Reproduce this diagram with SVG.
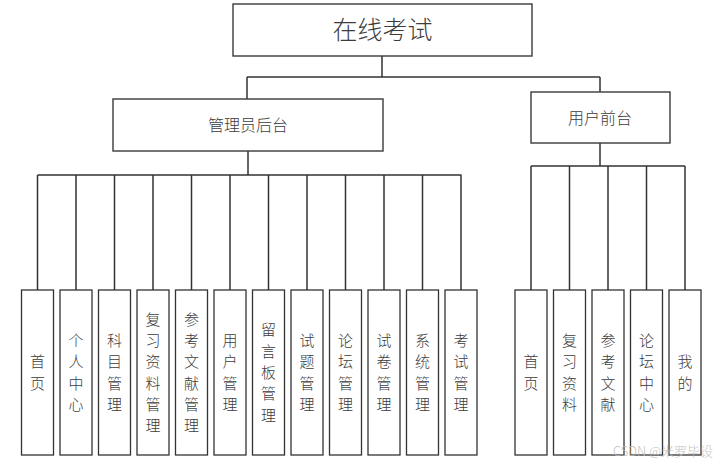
<svg xmlns="http://www.w3.org/2000/svg" width="725" height="464" viewBox="0 0 725 464">
<style>
.box{fill:#fff;stroke:#3a3a3a;stroke-width:1.4}
.lf{fill:#fff;stroke:#333;stroke-width:1.3}
.ln{fill:none;stroke:#333;stroke-width:1.5}
text{font-family:"Noto Sans CJK SC","Liberation Sans",sans-serif;font-weight:300;fill:#3c3c3c;text-anchor:middle}
.v{font-size:15px}
</style>
<rect width="725" height="464" fill="#fff"/>
<g id="connectors">
<path class="ln" d="M382,56V77M247,77H600M247,77V99M600,77V92"/>
<path class="ln" d="M248,151V175M37.5,175H461.5M37.5,175V290M76,175V290M114.5,175V290M153,175V290M191.5,175V290M230,175V290M268.5,175V290M307,175V290M345.5,175V290M384,175V290M422.5,175V290M461,175V290"/>
<path class="ln" d="M600,143V166M531,166H685M531,166V290M569.5,166V290M608,166V290M646.5,166V290M685,166V290"/>
</g>
<g id="root"><rect class="box" x="233" y="4" width="299" height="52"/><text x="382.5" y="39" font-size="25">在线考试</text></g>
<g id="admin"><rect class="box" x="113" y="99" width="270" height="52"/><text x="248" y="131" font-size="16">管理员后台</text></g>
<g id="user"><rect class="box" x="531" y="92" width="139" height="51"/><text x="600" y="124" font-size="16">用户前台</text></g>
<g id="a1"><rect class="lf" x="21.5" y="290" width="32" height="165"/><text class="v" x="37.5"><tspan x="37.5" y="367">首</tspan><tspan x="37.5" y="389">页</tspan></text></g>
<g id="a2"><rect class="lf" x="60" y="290" width="32" height="165"/><text class="v"><tspan x="76" y="346">个</tspan><tspan x="76" y="367">人</tspan><tspan x="76" y="389">中</tspan><tspan x="76" y="410">心</tspan></text></g>
<g id="a3"><rect class="lf" x="98.5" y="290" width="32" height="165"/><text class="v"><tspan x="114.5" y="346">科</tspan><tspan x="114.5" y="367">目</tspan><tspan x="114.5" y="389">管</tspan><tspan x="114.5" y="410">理</tspan></text></g>
<g id="a4"><rect class="lf" x="137" y="290" width="32" height="165"/><text class="v"><tspan x="153" y="325">复</tspan><tspan x="153" y="346">习</tspan><tspan x="153" y="367">资</tspan><tspan x="153" y="389">料</tspan><tspan x="153" y="410">管</tspan><tspan x="153" y="431">理</tspan></text></g>
<g id="a5"><rect class="lf" x="175.5" y="290" width="32" height="165"/><text class="v"><tspan x="191.5" y="325">参</tspan><tspan x="191.5" y="346">考</tspan><tspan x="191.5" y="367">文</tspan><tspan x="191.5" y="389">献</tspan><tspan x="191.5" y="410">管</tspan><tspan x="191.5" y="431">理</tspan></text></g>
<g id="a6"><rect class="lf" x="214" y="290" width="32" height="165"/><text class="v"><tspan x="230" y="346">用</tspan><tspan x="230" y="367">户</tspan><tspan x="230" y="389">管</tspan><tspan x="230" y="410">理</tspan></text></g>
<g id="a7"><rect class="lf" x="252.5" y="290" width="32" height="165"/><text class="v"><tspan x="268.5" y="335">留</tspan><tspan x="268.5" y="357">言</tspan><tspan x="268.5" y="378">板</tspan><tspan x="268.5" y="399">管</tspan><tspan x="268.5" y="421">理</tspan></text></g>
<g id="a8"><rect class="lf" x="291" y="290" width="32" height="165"/><text class="v"><tspan x="307" y="346">试</tspan><tspan x="307" y="367">题</tspan><tspan x="307" y="389">管</tspan><tspan x="307" y="410">理</tspan></text></g>
<g id="a9"><rect class="lf" x="329.5" y="290" width="32" height="165"/><text class="v"><tspan x="345.5" y="346">论</tspan><tspan x="345.5" y="367">坛</tspan><tspan x="345.5" y="389">管</tspan><tspan x="345.5" y="410">理</tspan></text></g>
<g id="a10"><rect class="lf" x="368" y="290" width="32" height="165"/><text class="v"><tspan x="384" y="346">试</tspan><tspan x="384" y="367">卷</tspan><tspan x="384" y="389">管</tspan><tspan x="384" y="410">理</tspan></text></g>
<g id="a11"><rect class="lf" x="406.5" y="290" width="32" height="165"/><text class="v"><tspan x="422.5" y="346">系</tspan><tspan x="422.5" y="367">统</tspan><tspan x="422.5" y="389">管</tspan><tspan x="422.5" y="410">理</tspan></text></g>
<g id="a12"><rect class="lf" x="445" y="290" width="32" height="165"/><text class="v"><tspan x="461" y="346">考</tspan><tspan x="461" y="367">试</tspan><tspan x="461" y="389">管</tspan><tspan x="461" y="410">理</tspan></text></g>
<g id="u1"><rect class="lf" x="515" y="290" width="32" height="165"/><text class="v"><tspan x="531" y="367">首</tspan><tspan x="531" y="389">页</tspan></text></g>
<g id="u2"><rect class="lf" x="553.5" y="290" width="32" height="165"/><text class="v"><tspan x="569.5" y="346">复</tspan><tspan x="569.5" y="367">习</tspan><tspan x="569.5" y="389">资</tspan><tspan x="569.5" y="410">料</tspan></text></g>
<g id="u3"><rect class="lf" x="592" y="290" width="32" height="165"/><text class="v"><tspan x="608" y="346">参</tspan><tspan x="608" y="367">考</tspan><tspan x="608" y="389">文</tspan><tspan x="608" y="410">献</tspan></text></g>
<g id="u4"><rect class="lf" x="630.5" y="290" width="32" height="165"/><text class="v"><tspan x="646.5" y="346">论</tspan><tspan x="646.5" y="367">坛</tspan><tspan x="646.5" y="389">中</tspan><tspan x="646.5" y="410">心</tspan></text></g>
<g id="u5"><rect class="lf" x="669" y="290" width="32" height="165"/><text class="v"><tspan x="685" y="367">我</tspan><tspan x="685" y="389">的</tspan></text></g>
<text x="663" y="456" font-size="13" style="fill:#bbb;opacity:0.9">CSDN @米罗毕设</text>
</svg>
